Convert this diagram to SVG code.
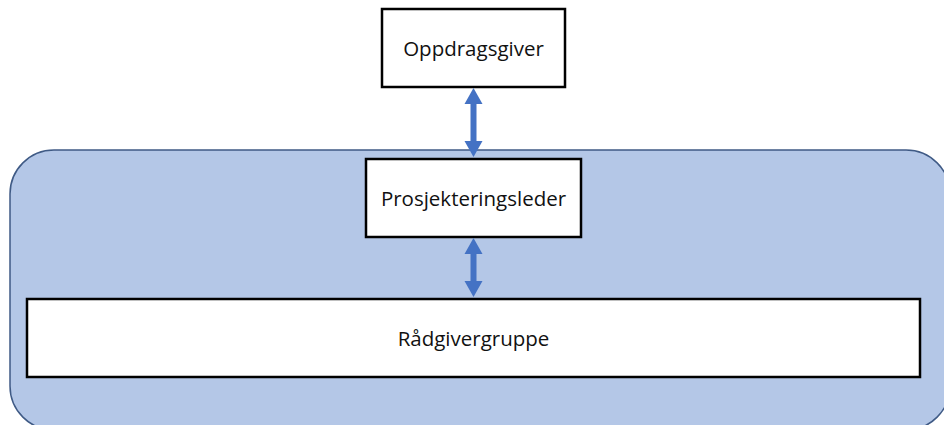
<svg xmlns="http://www.w3.org/2000/svg" width="944" height="425" viewBox="0 0 944 425">
<style>
.box{fill:#fff;stroke:#000;stroke-width:2.5}
.lbl{font-family:"Open Sans","Liberation Sans",sans-serif;font-size:20.5px;fill:#111;text-anchor:middle;dominant-baseline:central}
.arr{fill:#4472C4}
</style>
<rect width="944" height="425" fill="#fff"/>
<g id="container">
<rect x="10" y="150" width="940" height="280" rx="44" fill="#B4C7E7" stroke="#3F5A85" stroke-width="1.5"/>
</g>
<g id="oppdragsgiver">
<rect class="box" x="382" y="9" width="183" height="78"/>
<text class="lbl" x="473.5" y="48">Oppdragsgiver</text>
</g>
<g id="prosjekteringsleder">
<rect class="box" x="366" y="159" width="215" height="78"/>
<text class="lbl" x="473.5" y="198">Prosjekteringsleder</text>
</g>
<g id="radgivergruppe">
<rect class="box" x="27" y="299" width="893" height="78"/>
<text class="lbl" x="473.5" y="338">Rådgivergruppe</text>
</g>
<g id="connectors">
<polygon class="arr" points="473.5,88 482.5,104 476.5,104 476.5,141 482.5,141 473.5,157 464.5,141 470.5,141 470.5,104 464.5,104"/>
<polygon class="arr" points="473.5,238 482.5,254 476.5,254 476.5,281 482.5,281 473.5,297 464.5,281 470.5,281 470.5,254 464.5,254"/>
</g>
</svg>
